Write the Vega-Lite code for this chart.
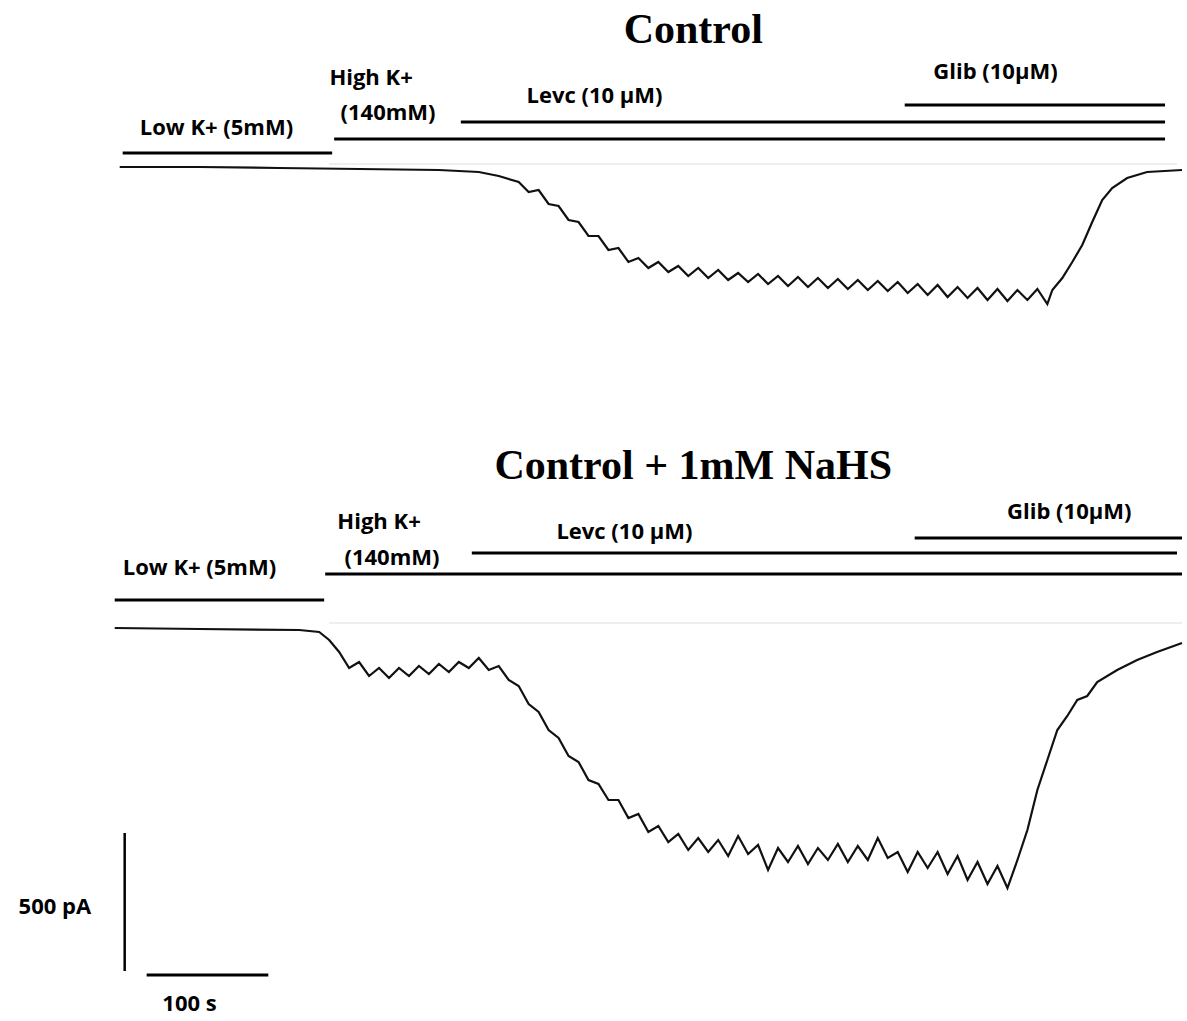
{
  "$schema": "https://vega.github.io/schema/vega-lite/v6.json",
  "width": 1187,
  "height": 1021,
  "autosize": {"type": "fit", "contains": "padding"},
  "padding": 0,
  "config": {"view": {"stroke": null}},
  "datasets": {
    "top": [
      {"x":120,"y":167},{"x":200,"y":167},{"x":280,"y":168},{"x":360,"y":169},{"x":440,"y":170},{"x":480,"y":172},{"x":500,"y":176},
      {"x":520,"y":182},{"x":530,"y":192},{"x":540,"y":190},{"x":550,"y":204},{"x":560,"y":206},{"x":570,"y":220},{"x":580,"y":222},{"x":590,"y":236},{"x":600,"y":236},{"x":610,"y":250},{"x":620,"y":248},{"x":630,"y":262},{"x":640,"y":258},{"x":650,"y":268},{"x":660,"y":262},{"x":670,"y":272},{"x":680,"y":266},{"x":690,"y":276},{"x":700,"y":268},{"x":710,"y":278},{"x":720,"y":270},{"x":730,"y":280},{"x":740,"y":273},{"x":750,"y":282},{"x":760,"y":274},{"x":770,"y":284},{"x":780,"y":276},{"x":790,"y":286},{"x":800,"y":277},{"x":810,"y":287},{"x":820,"y":278},{"x":830,"y":288},{"x":840,"y":279},{"x":850,"y":289},{"x":860,"y":280},{"x":870,"y":290},{"x":880,"y":281},{"x":890,"y":291},{"x":900,"y":282},{"x":910,"y":293},{"x":920,"y":284},{"x":930,"y":295},{"x":940,"y":285},{"x":950,"y":297},{"x":960,"y":287},{"x":970,"y":298},{"x":980,"y":288},{"x":990,"y":300},{"x":1000,"y":289},{"x":1010,"y":301},{"x":1020,"y":290},{"x":1030,"y":300},{"x":1040,"y":289},{"x":1050,"y":304},{"x":1055,"y":290},{"x":1065,"y":278},{"x":1075,"y":262},{"x":1085,"y":245},{"x":1095,"y":222},{"x":1105,"y":200},{"x":1115,"y":188},{"x":1130,"y":178},{"x":1150,"y":172},{"x":1185,"y":170}
    ],
    "bottom": [
      {"x":115,"y":628},{"x":200,"y":629},{"x":300,"y":630},{"x":320,"y":632},{"x":330,"y":640},{"x":340,"y":652},{"x":350,"y":668},{"x":360,"y":662},{"x":370,"y":676},{"x":380,"y":668},{"x":390,"y":678},{"x":400,"y":668},{"x":410,"y":676},{"x":420,"y":666},{"x":430,"y":674},{"x":440,"y":664},{"x":450,"y":672},{"x":460,"y":662},{"x":470,"y":668},{"x":480,"y":658},{"x":490,"y":670},{"x":500,"y":666},{"x":510,"y":680},{"x":520,"y":686},{"x":530,"y":704},{"x":540,"y":712},{"x":550,"y":730},{"x":560,"y":738},{"x":570,"y":756},{"x":580,"y":762},{"x":590,"y":780},{"x":600,"y":784},{"x":610,"y":800},{"x":620,"y":800},{"x":630,"y":818},{"x":640,"y":814},{"x":650,"y":832},{"x":660,"y":826},{"x":670,"y":842},{"x":680,"y":834},{"x":690,"y":850},{"x":700,"y":838},{"x":710,"y":852},{"x":720,"y":840},{"x":730,"y":856},{"x":740,"y":836},{"x":750,"y":854},{"x":760,"y":845},{"x":770,"y":870},{"x":780,"y":848},{"x":790,"y":862},{"x":800,"y":846},{"x":810,"y":864},{"x":820,"y":848},{"x":830,"y":860},{"x":840,"y":844},{"x":850,"y":862},{"x":860,"y":846},{"x":870,"y":860},{"x":880,"y":838},{"x":890,"y":858},{"x":900,"y":852},{"x":910,"y":872},{"x":920,"y":852},{"x":930,"y":868},{"x":940,"y":852},{"x":950,"y":874},{"x":960,"y":856},{"x":970,"y":880},{"x":980,"y":862},{"x":990,"y":884},{"x":1000,"y":866},{"x":1010,"y":888},{"x":1020,"y":860},{"x":1030,"y":830},{"x":1040,"y":790},{"x":1050,"y":760},{"x":1060,"y":730},{"x":1070,"y":716},{"x":1080,"y":700},{"x":1090,"y":696},{"x":1100,"y":682},{"x":1120,"y":670},{"x":1140,"y":660},{"x":1160,"y":652},{"x":1185,"y":643}
    ],
    "bars": [
      {"x":123,"x2":333,"y":153},{"x":335,"x2":1168,"y":139},{"x":462,"x2":1168,"y":122},{"x":907,"x2":1168,"y":105},
      {"x":115,"x2":325,"y":600},{"x":326,"x2":1185,"y":574},{"x":473,"x2":1180,"y":553},{"x":917,"x2":1185,"y":538},
      {"x":147,"x2":269,"y":975}
    ],
    "grey": [
      {"x":330,"x2":1180,"y":164},{"x":330,"x2":1185,"y":623}
    ],
    "labels": [
      {"x":217,"y":128,"t":"Low K+ (5mM)"},
      {"x":372,"y":78,"t":"High K+"},
      {"x":389,"y":113,"t":"(140mM)"},
      {"x":596,"y":96,"t":"Levc (10 µM)"},
      {"x":998,"y":72,"t":"Glib (10µM)"},
      {"x":200,"y":568,"t":"Low K+ (5mM)"},
      {"x":380,"y":522,"t":"High K+"},
      {"x":393,"y":558,"t":"(140mM)"},
      {"x":626,"y":532,"t":"Levc (10 µM)"},
      {"x":1072,"y":512,"t":"Glib (10µM)"},
      {"x":55,"y":907,"t":"500 pA"},
      {"x":190,"y":1004,"t":"100 s"}
    ],
    "titles": [
      {"x":695,"y":30,"t":"Control"},
      {"x":695,"y":466,"t":"Control + 1mM NaHS"}
    ]
  },
  "data": {"name": "top"},
  "encoding": {
    "x": {"field": "x", "type": "quantitative", "scale": {"domain": [0, 1187], "nice": false, "zero": false}, "axis": null},
    "y": {"field": "y", "type": "quantitative", "scale": {"domain": [1021, 0], "nice": false, "zero": false}, "axis": null}
  },
  "layer": [
    {"mark": {"type": "line", "color": "#111", "strokeWidth": 2.2}},
    {"data": {"name": "bottom"}, "mark": {"type": "line", "color": "#111", "strokeWidth": 2.2}},
    {"data": {"name": "bars"}, "mark": {"type": "rule", "color": "black", "strokeWidth": 3},
      "encoding": {"x2": {"field": "x2"}}},
    {"data": {"name": "grey"}, "mark": {"type": "rule", "color": "#ddd", "strokeWidth": 1},
      "encoding": {"x2": {"field": "x2"}}},
    {"data": {"values": [{"x":125,"y":833,"y2":971}]}, "mark": {"type": "rule", "color": "black", "strokeWidth": 2.5},
      "encoding": {"y2": {"field": "y2"}}},
    {"data": {"name": "labels"}, "mark": {"type": "text", "font": "Open Sans", "fontWeight": "bold", "fontSize": 22, "baseline": "middle", "align": "center"},
      "encoding": {"text": {"field": "t"}}},
    {"data": {"name": "titles"}, "mark": {"type": "text", "font": "Liberation Serif", "fontWeight": "bold", "fontSize": 42, "baseline": "middle", "align": "center"},
      "encoding": {"text": {"field": "t"}}}
  ]
}
